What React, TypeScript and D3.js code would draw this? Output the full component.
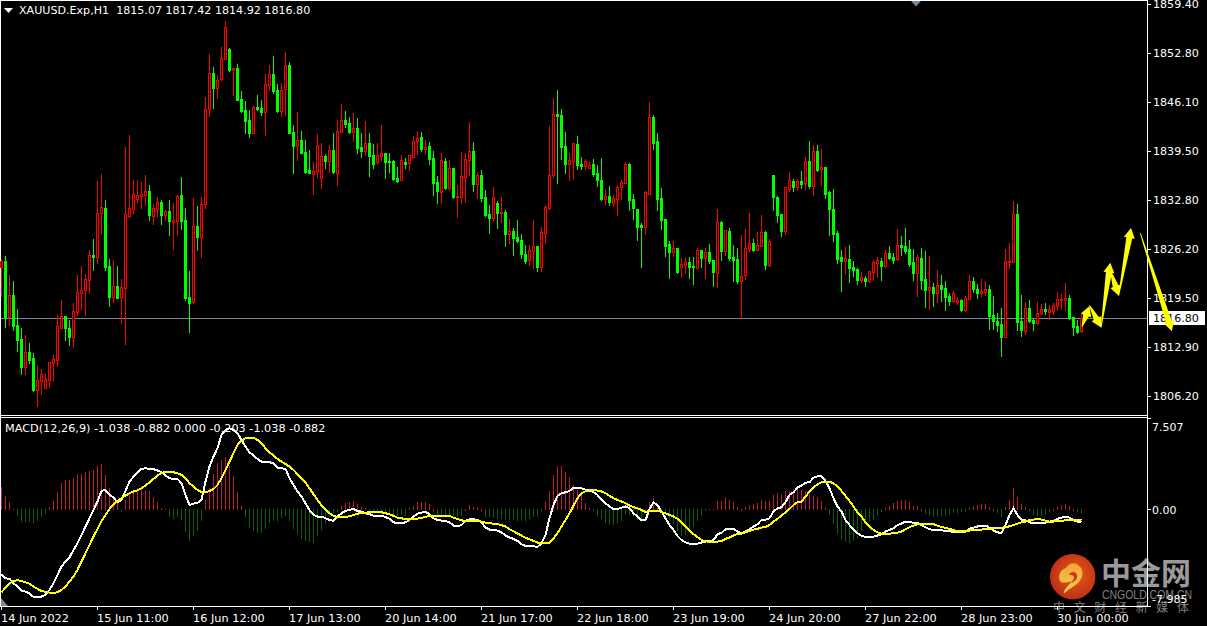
import * as d3 from "d3";
import React from "react";

const width = 1207;
const height = 626;

const opens = [
  1823.70,1824.51,1816.92,1819.90,1815.83,1813.93,1810.13,1812.17,1811.35,1807.01,1808.23,1807.28,1808.37,1810.67,1811.08,1815.42,1817.05,1815.42,1814.20,1817.60,
  1820.17,1820.58,1821.94,1825.33,1825.06,1831.03,1831.71,1823.84,1819.63,1821.12,1819.63,1820.85,1830.62,1831.58,1832.93,1833.34,1833.47,1834.02,1830.62,1831.58,
  1832.53,1830.76,1831.30,1829.81,1829.95,1833.47,1830.08,1819.63,1818.95,1829.27,1827.77,1832.25,1845.15,1850.03,1847.99,1849.22,1851.93,1853.29,1850.44,1850.71,
  1846.50,1845.01,1843.65,1841.89,1845.42,1845.28,1844.74,1848.40,1849.90,1847.73,1844.88,1847.86,1851.12,1842.02,1840.12,1840.94,1839.31,1836.87,1836.32,1836.73,
  1835.78,1838.77,1838.09,1839.58,1836.46,1842.02,1843.65,1843.25,1842.02,1842.57,1839.99,1839.45,1840.53,1838.90,1837.95,1838.77,1839.17,1838.09,1838.09,1835.78,
  1835.51,1837.95,1837.82,1838.63,1840.80,1841.35,1839.72,1840.12,1838.50,1835.24,1833.88,1838.09,1834.42,1837.14,1833.20,1833.20,1835.92,1838.22,1839.45,1834.97,
  1836.19,1833.20,1830.90,1830.35,1832.39,1831.03,1831.17,1828.18,1828.59,1827.77,1827.37,1825.47,1824.65,1825.87,1826.55,1823.70,1828.32,1831.71,1836.19,1844.47,
  1844.33,1840.12,1837.68,1838.09,1840.40,1837.68,1837.41,1837.14,1837.68,1836.46,1835.51,1832.93,1833.34,1832.39,1832.93,1834.56,1835.10,1837.68,1832.93,1831.58,
  1829.40,1829.13,1833.61,1844.06,1840.80,1833.07,1830.22,1826.82,1825.74,1826.28,1823.70,1823.97,1824.38,1823.84,1823.57,1826.01,1824.92,1825.74,1824.65,1822.89,
  1829.81,1825.87,1828.59,1825.06,1824.79,1821.80,1822.62,1826.15,1826.96,1826.01,1826.55,1828.45,1823.97,1836.19,1833.20,1830.90,1828.59,1834.29,1835.37,1834.56,
  1835.37,1835.10,1838.09,1834.70,1839.45,1837.00,1837.27,1833.88,1831.58,1828.32,1825.06,1824.51,1824.79,1823.70,1823.43,1821.94,1822.21,1821.80,1823.02,1824.24,
  1824.51,1823.84,1825.60,1825.06,1824.79,1826.69,1826.55,1826.15,1824.38,1822.89,1824.92,1822.08,1820.58,1820.99,1820.17,1821.26,1820.85,1819.77,1819.09,1818.95,
  1819.22,1817.87,1819.36,1821.80,1820.72,1820.17,1820.31,1820.72,1817.19,1816.37,1815.96,1814.20,1824.38,1824.38,1830.90,1816.37,1815.02,1818.14,1816.51,1816.10,
  1817.46,1818.00,1817.60,1817.73,1818.41,1819.22,1819.22,1819.50,1816.92,1815.69,1815.07,
];

const closes = [
  1824.51,1816.92,1819.90,1815.69,1813.80,1810.13,1812.17,1811.08,1807.01,1808.37,1809.18,1808.50,1810.81,1811.22,1815.69,1817.05,1815.42,1814.20,1817.73,1820.31,
  1820.58,1822.08,1825.33,1825.06,1831.03,1831.85,1823.70,1819.63,1821.12,1819.50,1820.99,1830.90,1831.71,1833.61,1833.47,1833.61,1834.02,1830.76,1831.71,1832.53,
  1830.76,1831.30,1829.95,1830.08,1833.34,1829.95,1819.50,1818.81,1829.27,1827.77,1832.25,1845.15,1850.03,1847.99,1849.08,1852.07,1856.28,1850.44,1850.71,1846.37,
  1844.88,1843.52,1841.89,1845.42,1845.15,1844.74,1848.54,1849.90,1847.59,1844.88,1847.73,1851.12,1841.89,1840.12,1840.94,1839.17,1836.60,1836.46,1836.73,1840.26,
  1838.77,1838.09,1839.58,1836.60,1842.16,1843.65,1843.11,1842.02,1842.57,1839.85,1839.45,1840.53,1838.77,1837.68,1838.90,1839.17,1837.95,1837.95,1835.65,1835.37,
  1838.22,1837.68,1838.90,1840.80,1841.21,1839.72,1839.99,1838.36,1835.10,1834.02,1838.22,1834.42,1837.14,1833.20,1833.34,1836.05,1838.36,1839.45,1834.97,1836.19,
  1833.07,1830.76,1830.35,1833.20,1831.03,1831.17,1828.18,1828.59,1827.64,1827.23,1825.47,1824.51,1826.01,1826.55,1823.70,1828.45,1831.85,1836.19,1844.47,1844.20,
  1839.99,1837.68,1838.22,1840.53,1837.55,1837.41,1838.09,1837.55,1836.32,1835.51,1832.93,1833.34,1832.53,1833.07,1834.56,1835.24,1837.68,1832.80,1831.71,1829.13,
  1829.13,1833.88,1844.06,1840.53,1832.93,1830.08,1826.55,1825.74,1826.28,1823.02,1824.11,1824.38,1823.70,1823.70,1826.01,1824.92,1825.74,1824.51,1823.02,1829.81,
  1825.87,1828.72,1824.92,1824.65,1821.80,1822.48,1826.28,1826.96,1826.01,1826.69,1828.45,1823.97,1827.23,1833.20,1830.76,1828.59,1834.56,1835.51,1834.56,1835.37,
  1834.97,1838.09,1834.70,1839.45,1836.87,1837.27,1833.61,1831.58,1828.18,1824.79,1824.51,1824.92,1823.57,1823.30,1821.94,1822.35,1821.80,1823.16,1824.38,1824.65,
  1823.84,1825.60,1824.92,1824.65,1826.69,1826.42,1825.87,1824.11,1822.89,1825.06,1821.94,1820.58,1820.99,1820.17,1821.26,1820.72,1819.63,1819.09,1820.17,1819.22,
  1817.87,1819.50,1821.80,1820.72,1820.17,1820.45,1820.72,1817.05,1816.37,1815.83,1814.20,1824.51,1824.51,1830.90,1816.24,1815.15,1818.14,1816.37,1816.10,1817.46,
  1818.00,1817.73,1818.00,1818.54,1819.36,1819.36,1819.50,1816.78,1815.56,1814.88,1816.80,
];

const highs = [
  1824.65,1825.20,1822.62,1821.80,1818.00,1815.42,1814.47,1813.39,1812.03,1810.27,1809.86,1809.18,1810.81,1811.76,1817.33,1819.22,1817.05,1816.51,1818.81,1822.62,
  1823.84,1822.76,1826.01,1827.50,1835.37,1836.32,1832.80,1824.79,1824.65,1823.84,1822.08,1839.99,1841.62,1835.51,1835.51,1835.24,1836.19,1834.83,1832.25,1833.21,
  1832.80,1831.44,1832.80,1832.39,1833.47,1835.92,1831.71,1823.16,1833.07,1831.98,1833.21,1846.78,1852.61,1850.85,1849.76,1853.56,1857.09,1853.42,1850.71,1851.25,
  1847.59,1846.23,1845.01,1845.55,1847.05,1846.37,1849.90,1851.12,1852.34,1848.54,1848.68,1852.88,1851.53,1842.97,1844.74,1842.16,1840.94,1839.58,1837.95,1841.75,
  1840.53,1839.04,1840.26,1841.89,1843.65,1845.83,1844.88,1844.06,1844.60,1843.92,1841.89,1843.52,1841.89,1840.40,1840.53,1842.97,1839.17,1839.17,1838.22,1837.27,
  1838.90,1838.50,1838.90,1841.48,1842.16,1842.02,1840.94,1840.67,1839.45,1836.05,1839.17,1838.50,1838.22,1837.14,1834.83,1839.31,1839.17,1843.38,1840.67,1836.60,
  1836.87,1834.15,1832.12,1834.56,1832.66,1833.21,1831.44,1830.22,1828.99,1830.08,1828.18,1826.69,1826.69,1830.08,1826.55,1829.13,1832.12,1842.84,1846.64,1847.73,
  1845.15,1842.02,1839.17,1840.53,1841.48,1838.63,1838.36,1838.09,1838.36,1837.55,1838.50,1834.29,1834.70,1833.47,1834.83,1835.51,1837.95,1837.82,1833.61,1831.58,
  1829.67,1834.02,1846.10,1844.33,1841.89,1834.42,1830.22,1827.23,1827.23,1826.28,1824.92,1825.06,1825.06,1825.06,1826.28,1826.01,1826.28,1826.82,1824.65,1831.58,
  1829.95,1828.72,1828.99,1826.69,1826.28,1828.04,1828.86,1831.03,1827.50,1828.45,1830.76,1828.59,1827.50,1836.19,1833.34,1830.90,1834.56,1836.60,1835.65,1835.65,
  1836.73,1838.63,1840.80,1840.26,1840.26,1839.72,1837.27,1834.02,1834.29,1828.59,1826.01,1826.42,1826.69,1824.51,1823.57,1823.02,1822.48,1823.16,1824.65,1825.06,
  1824.92,1826.01,1826.55,1825.60,1828.86,1827.91,1828.99,1827.37,1826.15,1825.33,1826.28,1825.87,1825.19,1821.53,1823.30,1822.62,1821.80,1820.17,1820.45,1819.63,
  1819.36,1819.77,1822.62,1822.35,1821.39,1822.08,1821.80,1821.26,1819.77,1817.46,1818.14,1826.15,1826.96,1832.66,1832.25,1819.90,1818.95,1819.22,1816.78,1818.95,
  1818.68,1818.81,1818.54,1818.81,1820.31,1820.04,1821.53,1819.90,1816.92,1816.51,1817.42,
];

const lows = [
  1819.77,1815.56,1815.83,1815.15,1812.30,1809.18,1809.18,1810.67,1806.87,1804.84,1806.46,1807.28,1807.41,1808.37,1810.27,1815.42,1813.80,1813.12,1812.85,1817.19,
  1818.00,1817.19,1820.17,1823.30,1824.24,1828.32,1823.30,1818.41,1818.95,1819.50,1816.10,1813.25,1830.49,1831.03,1832.53,1831.71,1832.12,1830.08,1829.54,1830.62,
  1829.54,1830.08,1828.04,1826.15,1828.04,1828.86,1819.22,1814.88,1818.81,1826.01,1825.06,1831.71,1844.20,1845.28,1846.64,1849.08,1851.93,1850.30,1847.05,1846.37,
  1844.74,1841.89,1841.35,1841.89,1845.01,1844.33,1841.62,1847.86,1847.32,1844.74,1844.20,1844.33,1841.89,1836.46,1838.22,1839.17,1836.46,1836.46,1833.61,1835.92,
  1834.42,1837.14,1836.60,1836.46,1834.83,1842.02,1842.70,1841.89,1840.80,1839.17,1838.63,1838.90,1836.05,1837.14,1837.68,1838.22,1835.78,1836.60,1835.51,1835.24,
  1835.51,1837.14,1836.87,1838.63,1839.04,1839.45,1839.17,1837.68,1833.47,1832.39,1832.39,1834.29,1834.15,1833.07,1830.49,1832.39,1832.53,1836.19,1834.02,1833.07,
  1832.66,1830.62,1828.32,1829.95,1828.99,1829.81,1826.55,1826.96,1825.33,1827.10,1824.92,1824.24,1823.97,1823.57,1823.16,1823.16,1826.96,1831.58,1835.92,1835.10,
  1838.36,1836.46,1835.51,1835.65,1837.00,1837.00,1837.00,1837.14,1836.05,1834.70,1832.80,1832.25,1832.12,1831.98,1830.76,1832.93,1835.10,1831.44,1830.22,1827.37,
  1823.70,1828.18,1833.61,1839.72,1831.44,1828.86,1825.19,1822.21,1825.19,1822.89,1822.35,1822.89,1822.21,1821.39,1823.57,1823.70,1822.21,1824.24,1821.12,1820.99,
  1824.65,1825.33,1824.65,1821.80,1821.53,1816.78,1822.08,1825.87,1825.87,1826.01,1826.55,1823.43,1823.84,1831.44,1829.81,1827.91,1828.18,1834.02,1834.02,1834.15,
  1834.42,1834.29,1834.42,1833.47,1836.73,1834.83,1833.07,1828.04,1827.23,1824.24,1820.45,1822.89,1821.67,1822.48,1821.39,1821.67,1821.12,1821.67,1821.94,1822.35,
  1821.94,1823.70,1824.79,1824.24,1824.65,1825.33,1825.60,1823.84,1821.94,1819.77,1820.72,1818.27,1818.00,1818.41,1818.95,1819.09,1817.87,1818.54,1818.95,1818.68,
  1817.73,1817.73,1819.36,1820.31,1819.50,1819.77,1819.90,1815.29,1815.29,1815.02,1811.62,1814.20,1823.57,1824.38,1815.15,1814.34,1814.61,1816.24,1815.15,1815.96,
  1817.33,1817.33,1816.65,1817.33,1817.87,1818.00,1817.87,1816.65,1814.47,1814.75,1814.92,
];

const macdHist = [
  1.86,1.09,0.60,0.08,-0.41,-0.90,-0.96,-0.96,-1.04,-0.82,-0.55,-0.27,0.22,0.68,1.42,2.16,2.40,2.46,2.60,2.90,
  2.95,3.06,3.20,3.28,3.55,3.72,2.87,1.78,1.09,0.55,-0.08,0.82,1.37,1.58,1.78,1.69,1.64,1.50,1.04,0.63,
  0.14,0.08,-0.49,-0.66,-0.49,-0.76,-1.78,-2.46,-2.05,-1.64,-0.82,0.76,1.78,2.95,3.82,4.10,4.32,3.55,2.73,1.42,
  0.27,-0.55,-1.42,-1.69,-1.83,-1.86,-1.50,-1.04,-0.87,-0.82,-0.60,-0.41,-0.82,-1.50,-1.91,-2.32,-2.51,-2.60,-2.62,-2.05,
  -1.58,-1.09,-0.55,-0.22,-0.08,0.27,0.55,0.66,0.71,0.46,0.22,0.11,0.05,-0.08,-0.16,-0.22,-0.22,-0.27,-0.33,-0.41,
  -0.38,-0.41,0.14,0.33,0.60,0.66,0.66,0.46,0,-0.38,-0.41,-0.44,-0.41,-0.44,-0.55,-0.41,0,0.38,0.22,0.22,
  0,-0.49,-0.55,-0.60,-0.66,-0.66,-0.76,-0.76,-0.76,-0.82,-0.82,-0.87,-0.71,-0.55,-0.49,-0.05,0.66,1.53,2.84,3.55,
  3.55,3.06,2.68,2.05,1.64,1.23,0.55,0.14,-0.05,-0.44,-0.66,-0.98,-1.15,-1.15,-1.04,-0.82,-0.27,-0.33,-0.55,-0.76,
  -0.93,-0.05,0.60,0.93,0.41,-0.08,-0.41,-0.76,-1.09,-1.64,-2.05,-1.97,-1.64,-1.31,-0.82,-0.41,-0.05,0.05,0.05,0.71,
  0.71,1.04,0.82,0.66,0.22,0,0.22,0.38,0.44,0.55,0.82,0.68,0.68,1.23,1.37,1.23,1.50,1.50,1.69,1.78,
  1.58,1.50,1.31,1.15,1.04,0.71,0.14,-0.38,-1.09,-1.91,-2.40,-2.60,-2.62,-2.46,-2.32,-1.69,-1.09,-0.90,-0.76,-0.41,
  -0.08,0.14,0.33,0.55,0.74,0.82,0.76,0.60,0.33,0.27,0,-0.25,-0.41,-0.49,-0.49,-0.41,-0.41,-0.33,-0.22,-0.16,
  -0.14,-0.08,0.14,0.27,0.41,0.46,0.49,0.25,0,-0.16,-0.49,0.22,0.82,1.78,1.04,0.44,0.22,0,-0.36,-0.44,
  -0.44,-0.38,-0.14,0,0.22,0.41,0.49,0.30,0,-0.08,-0.203,
];

const macdLine = [
  -5.30,-5.63,-5.68,-6.04,-6.31,-6.64,-6.72,-6.88,-7.16,-7.16,-7.13,-6.99,-6.58,-6.04,-5.35,-4.67,-4.26,-3.93,-3.31,-2.76,
  -2.08,-1.39,-0.71,-0.03,0.66,1.53,1.61,1.20,0.98,0.60,0.79,1.53,2.29,2.70,3.06,3.33,3.39,3.33,3.31,3.20,
  3.06,2.79,2.57,2.51,2.51,2.16,1.20,0.38,0.49,0.55,0.79,2.29,3.52,4.34,5.03,6.12,6.53,6.67,6.53,6.26,
  5.71,5.16,4.70,4.43,4.15,3.93,3.88,3.88,3.80,3.44,3.39,3.33,2.57,2.02,1.48,1.07,0.52,-0.03,-0.44,-0.57,
  -0.57,-0.71,-0.85,-0.93,-0.57,-0.30,-0.11,-0.03,0.05,-0.11,-0.16,-0.30,-0.38,-0.49,-0.52,-0.52,-0.60,-0.76,-1.04,-1.12,
  -1.12,-1.04,-0.85,-0.57,-0.33,-0.25,-0.19,-0.36,-0.71,-0.85,-0.90,-0.93,-1.04,-1.31,-1.37,-1.26,-0.93,-0.79,-0.79,-0.85,
  -1.04,-1.48,-1.64,-1.69,-1.72,-1.86,-2.13,-2.29,-2.40,-2.57,-2.84,-2.98,-3.01,-3.01,-3.06,-2.76,-2.08,-0.71,0.38,1.12,
  1.34,1.42,1.53,1.80,1.80,1.75,1.64,1.56,1.42,1.20,0.79,0.52,0.25,0.05,0.03,0.16,0.25,0.11,-0.30,-0.57,
  -0.87,-0.87,0.05,0.57,0.38,-0.16,-0.71,-1.26,-1.67,-2.16,-2.49,-2.68,-2.79,-2.81,-2.79,-2.70,-2.62,-2.57,-2.51,-2.02,
  -1.91,-1.61,-1.56,-1.58,-1.80,-1.94,-1.80,-1.61,-1.39,-1.20,-0.85,-0.82,-0.71,-0.16,0.11,0.19,0.60,1.20,1.42,1.80,
  1.97,2.21,2.24,2.62,2.73,2.73,2.35,1.75,0.93,0.25,-0.16,-0.85,-1.26,-1.67,-1.94,-2.16,-2.24,-2.24,-2.21,-2.13,
  -2.02,-1.80,-1.67,-1.53,-1.28,-1.15,-0.98,-1.04,-1.07,-1.09,-1.26,-1.45,-1.61,-1.67,-1.67,-1.69,-1.75,-1.78,-1.83,-1.86,
  -1.86,-1.80,-1.58,-1.48,-1.39,-1.31,-1.31,-1.48,-1.72,-1.86,-1.94,-1.26,-0.44,0.11,-0.44,-0.85,-0.87,-1.04,-1.12,-1.12,
  -1.12,-1.07,-0.98,-0.93,-0.76,-0.66,-0.57,-0.66,-0.87,-0.98,-1.038,
];

const signalLine = [
  -6.78,-6.39,-6.04,-5.85,-5.79,-5.85,-5.96,-6.07,-6.31,-6.50,-6.67,-6.75,-6.80,-6.83,-6.78,-6.58,-6.31,-5.90,-5.49,-4.94,
  -4.26,-3.58,-2.90,-2.21,-1.58,-0.93,-0.44,0.05,0.44,0.71,0.93,1.15,1.34,1.48,1.58,1.75,1.97,2.24,2.51,2.79,
  3.01,3.09,3.09,3.06,2.98,2.84,2.57,2.16,1.89,1.61,1.45,1.42,1.53,1.69,2.02,2.57,3.25,3.93,4.62,5.30,
  5.63,5.85,5.90,5.90,5.71,5.44,5.03,4.70,4.43,4.15,3.93,3.74,3.52,3.25,2.90,2.57,2.21,1.75,1.26,0.79,
  0.33,-0.03,-0.30,-0.52,-0.60,-0.63,-0.60,-0.55,-0.44,-0.33,-0.30,-0.25,-0.22,-0.16,-0.19,-0.22,-0.30,-0.38,-0.52,-0.66,
  -0.71,-0.79,-0.79,-0.76,-0.74,-0.68,-0.60,-0.52,-0.49,-0.49,-0.49,-0.49,-0.52,-0.66,-0.79,-0.87,-0.96,-0.96,-0.96,-0.96,
  -0.98,-1.07,-1.12,-1.15,-1.20,-1.28,-1.39,-1.61,-1.78,-1.97,-2.13,-2.32,-2.43,-2.57,-2.70,-2.73,-2.73,-2.73,-2.35,-1.94,
  -1.39,-0.85,-0.30,0.33,0.93,1.34,1.50,1.58,1.58,1.56,1.48,1.34,1.12,0.93,0.79,0.66,0.52,0.33,0.19,0.11,
  -0.03,-0.19,-0.11,-0.08,-0.11,-0.19,-0.30,-0.44,-0.57,-0.76,-1.04,-1.39,-1.72,-2.02,-2.27,-2.49,-2.60,-2.65,-2.65,-2.62,
  -2.57,-2.40,-2.29,-2.13,-1.99,-1.97,-1.86,-1.75,-1.64,-1.58,-1.48,-1.42,-1.26,-0.98,-0.76,-0.49,-0.22,0.05,0.38,0.60,
  0.66,1.07,1.48,1.80,2.08,2.24,2.29,2.27,2.16,1.89,1.53,1.12,0.71,0.25,-0.25,-0.57,-1.04,-1.39,-1.67,-1.86,
  -1.97,-1.97,-1.97,-1.94,-1.89,-1.80,-1.61,-1.45,-1.31,-1.20,-1.17,-1.15,-1.15,-1.20,-1.31,-1.42,-1.50,-1.58,-1.69,-1.75,
  -1.78,-1.78,-1.72,-1.67,-1.64,-1.64,-1.58,-1.56,-1.53,-1.50,-1.48,-1.45,-1.37,-1.26,-1.15,-1.04,-0.98,-0.87,-0.82,-0.76,
  -0.82,-0.90,-0.98,-0.98,-0.96,-0.93,-0.87,-0.87,-0.87,-0.85,-0.882,
];

const priceTicks = [1859.4, 1852.8, 1846.1, 1839.5, 1832.8, 1826.2, 1819.5, 1812.9, 1806.2];
const lastPrice = 1816.8;

const timeTickBars = [0, 24, 48, 72, 96, 120, 144, 168, 192, 216, 240, 264];
const timeTickLabels = [
  "14 Jun 2022", "15 Jun 11:00", "16 Jun 12:00", "17 Jun 13:00", "20 Jun 14:00", "21 Jun 17:00",
  "22 Jun 18:00", "23 Jun 19:00", "24 Jun 20:00", "27 Jun 22:00", "28 Jun 23:00", "30 Jun 00:00",
];

// hand drawn forecast arrows: from bar/price to bar/price
const arrowFromBar = [270.1, 272.0, 274.9, 277.2, 279.3, 284.7];
const arrowFromPrice = [1815.6, 1818.5, 1815.5, 1823.3, 1819.8, 1828.3];
const arrowToBar = [272.0, 274.9, 277.2, 279.3, 282.4, 292.6];
const arrowToPrice = [1818.4, 1815.5, 1824.3, 1819.8, 1829.0, 1815.0];

const UP = "#ff0000";
const DOWN = "#00ff00";
const FONT = "'DejaVu Sans', sans-serif";

export default function App() {
  const x = d3.scaleLinear().domain([0, 270]).range([1.5, 1081.5]);
  const y = d3.scaleLinear().domain([1806.2, 1859.4]).range([396, 4]);
  const macdY = d3.scaleLinear().domain([-7.985, 7.507]).range([607, 418]);
  const px = (i: number) => Math.floor(x(i));
  const py = (v: number) => Math.round(y(v));

  const macdPath = d3.line<number>().x((_, i) => x(i)).y(d => macdY(d));

  const arrow = (k: number) => {
    const x0 = x(arrowFromBar[k]), y0 = y(arrowFromPrice[k]);
    const x1 = x(arrowToBar[k]), y1 = y(arrowToPrice[k]);
    const angle = Math.atan2(y1 - y0, x1 - x0);
    const len = Math.hypot(x1 - x0, y1 - y0);
    const head = 10, neck = 3, wing = 5.5;
    const pt = (along: number, side: number) => [
      x0 + along * Math.cos(angle) - side * Math.sin(angle),
      y0 + along * Math.sin(angle) + side * Math.cos(angle),
    ] as [number, number];
    return d3.line()([
      pt(0, 0.4), pt(len - head, neck), pt(len - head, wing), pt(len, 0),
      pt(len - head, -wing), pt(len - head, -neck), pt(0, -0.4),
    ]) + "Z";
  };

  const zeroY = Math.floor(macdY(0));

  return (
    <svg width={width} height={height} style={{ position: "absolute", left: 0, top: 0, background: "#000" }} fontFamily={FONT} fontSize={11}>
      <defs>
        <radialGradient id="logoBall" cx="55%" cy="45%" r="60%">
          <stop offset="0%" stopColor="#ea5a12" />
          <stop offset="100%" stopColor="#b92c18" />
        </radialGradient>
        <linearGradient id="logoCloud" x1="0" y1="0" x2="0" y2="1">
          <stop offset="0%" stopColor="#f2a33a" />
          <stop offset="100%" stopColor="#f7cf4f" />
        </linearGradient>
      </defs>

      {/* watermark sits under the chart lines */}
      <g>
        <circle cx={1072.7} cy={576.7} r={22.7} fill="url(#logoBall)" />
        <path
          d="M1059.5 580 C1058 573 1062 569 1066 568 C1069 562 1076 562 1079 566 C1083 568 1083.500 575 1081 579 C1078 585 1071 587 1064 593.500 C1063 590 1069 585 1072 581 C1066 583 1061 584 1059.500 580 Z"
          fill="url(#logoCloud)"
        />
        <path
          d="M1069 575 C1070 571 1076 571 1077 575 C1078 579 1074 582 1071 583 C1073 580 1075 578 1073.500 576 C1072 574.500 1070 575 1069 575 Z"
          fill="#c9381a"
        />
        <text x={1101} y={584} fontFamily="'Noto Sans CJK SC'" fontWeight={700} fontSize={30} fill="#9a9a9a">中金网</text>
        <text x={1102} y={599} fontFamily="'Liberation Sans'" fontSize={13} textLength={90} lengthAdjust="spacingAndGlyphs" fill="#808080">CNGOLD.COM.CN</text>
        <text x={1053} y={612} fontFamily="'Noto Sans CJK SC'" fontSize={12} textLength={136} lengthAdjust="spacing" fill="#808080">中文财经新媒体</text>
      </g>

      {/* pane frames */}
      <g fill="#fff" shapeRendering="crispEdges">
        <rect x={0} y={0} width={1148} height={1} />
        <rect x={0} y={0} width={1} height={607} />
        <rect x={1147} y={0} width={1} height={607} />
        <rect x={0} y={415} width={1148} height={1} />
        <rect x={0} y={417} width={1148} height={1} />
        <rect x={0} y={606} width={1148} height={1} />
        {priceTicks.map(t => <rect key={t} x={1148} y={py(t)} width={3} height={1} />)}
        {[7.507, 0, -7.985].map(t => <rect key={t} x={1148} y={Math.min(606, Math.floor(macdY(t)))} width={3} height={1} />)}
        {timeTickBars.map(b => <rect key={b} x={px(b)} y={607} width={1} height={3} />)}
      </g>

      {/* last price line */}
      <rect x={1} y={py(lastPrice)} width={1146} height={1} fill="#778899" shapeRendering="crispEdges" />

      {/* candles */}
      <g shapeRendering="crispEdges">
        {opens.map((o, i) => {
          const c = closes[i];
          const up = c >= o;
          const color = up ? UP : DOWN;
          const cx = px(i);
          const top = py(Math.max(o, c));
          const bottom = py(Math.min(o, c));
          const hi = py(highs[i]);
          const lo = py(lows[i]);
          return (
            <g key={i}>
              <rect x={cx} y={hi} width={1} height={lo - hi + 1} fill={color} />
              <rect x={cx - 1} y={top} width={3} height={bottom - top + 1} fill={color} />
              {up && bottom - top > 1 && <rect x={cx} y={top + 1} width={1} height={bottom - top - 1} fill="#000" />}
            </g>
          );
        })}
      </g>

      {/* macd histogram */}
      <g shapeRendering="crispEdges">
        {macdHist.map((v, i) => {
          const yv = Math.round(macdY(v));
          return (
            <rect
              key={i}
              x={px(i)}
              y={Math.min(yv, zeroY)}
              width={1}
              height={Math.abs(yv - zeroY) + 1}
              fill={v >= 0 ? "#c8143c" : "#006400"}
            />
          );
        })}
      </g>
      <path d={macdPath(macdLine) || ""} fill="none" stroke="#fff" strokeWidth={2} shapeRendering="crispEdges" />
      <path d={macdPath(signalLine) || ""} fill="none" stroke="#ffff00" strokeWidth={2} shapeRendering="crispEdges" />

      <path d="M4 8 L13 8 L8.500 13 Z" fill="#fff" />
      <path d="M911 1 L921 1 L916 6.500 Z" fill="#778899" />
      <path d="M1 598 L1 606 L8 606 Z" fill="#778899" />

      <text x={19} y={14} fill="#fff" fontSize={11.1} xmlSpace="preserve">XAUUSD.Exp,H1  1815.07 1817.42 1814.92 1816.80</text>
      <text x={5} y={432} fill="#fff" fontSize={11.25}>MACD(12,26,9) -1.038 -0.882 0.000 -0.203 -1.038 -0.882</text>

      <g fill="#fff">
        {priceTicks.map(t => (
          <text key={t} x={1153} y={py(t)} dy="0.36em" fontSize={11.1}>{t.toFixed(2)}</text>
        ))}
        <text x={1152} y={431}>7.507</text>
        <text x={1152} y={macdY(0)} dy="0.36em">0.00</text>
        <text x={1152} y={603}>-7.985</text>
        {timeTickBars.map((b, k) => (
          <text key={b} x={px(b)} y={622} fontSize={11.3}>{timeTickLabels[k]}</text>
        ))}
      </g>

      <rect x={1149} y={311} width={56} height={14} fill="#fff" shapeRendering="crispEdges" />
      <text x={1153} y={py(lastPrice)} dy="0.36em" fontSize={11.1} fill="#000">{lastPrice.toFixed(2)}</text>

      {arrowFromBar.map((_, k) => (
        <path key={k} d={arrow(k)} fill="#ffff00" />
      ))}
    </svg>
  );
}
